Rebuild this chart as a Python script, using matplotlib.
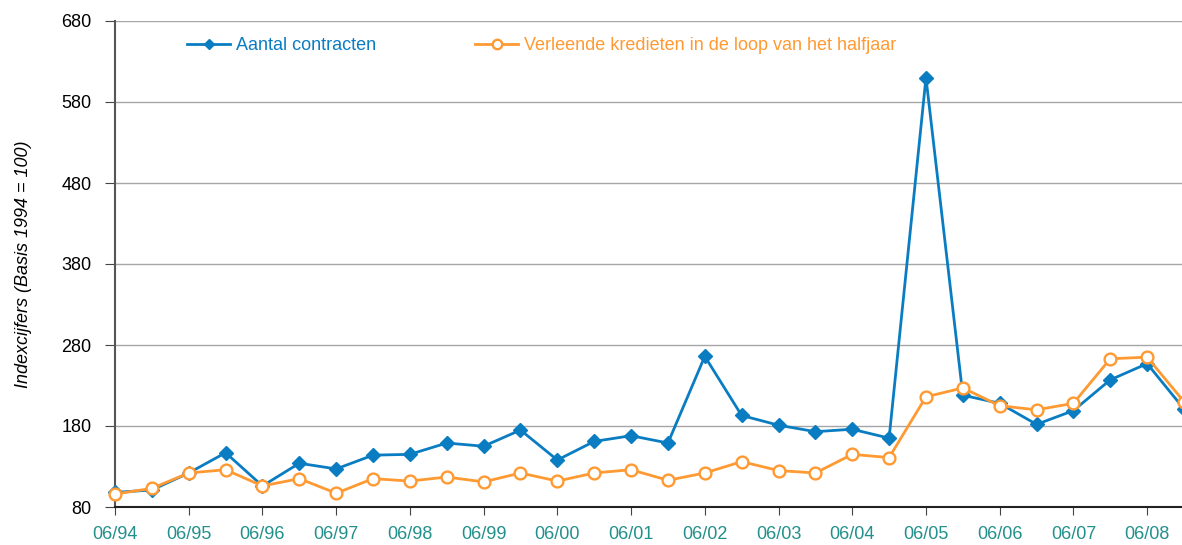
import numpy as np
import matplotlib.pyplot as plt

plt.rcParams['font.family'] = ['Liberation Sans', 'DejaVu Sans']

# half-year periods from 06/94 up to 12/08
tick_labels = ['06/94', '06/95', '06/96', '06/97', '06/98', '06/99', '06/00',
               '06/01', '06/02', '06/03', '06/04', '06/05', '06/06', '06/07', '06/08']

contracten = [98, 101, 122, 147, 106, 134, 127, 144, 145, 159, 155, 175, 138, 161, 168,
              159, 266, 193, 181, 173, 176, 165, 610, 218, 208, 182, 199, 237, 257, 201]
kredieten = [96, 103, 122, 126, 106, 115, 97, 115, 112, 117, 111, 122, 112, 122, 126,
             113, 122, 136, 125, 122, 145, 141, 216, 227, 205, 200, 208, 263, 265, 210]

blue = '#0A7DC2'
orange = '#FF9A33'
teal = '#22908A'

fig = plt.figure(figsize=(11.82, 5.45), dpi=100)
ax = fig.add_axes([115 / 1182, 38 / 545, 1069 / 1182, 486 / 545])

x = np.arange(len(contracten))
ax.plot(x, contracten, color=blue, lw=2, marker='D', ms=7,
        label='Aantal contracten', clip_on=False, zorder=3)
ax.plot(x, kredieten, color=orange, lw=2, marker='o', ms=8.5, mfc='white', mew=1.7,
        label='Verleende kredieten in de loop van het halfjaar', clip_on=False, zorder=3)

ax.set_xlim(0, 29)
ax.set_ylim(80, 680)
ax.set_yticks(np.arange(80, 681, 100))
ax.set_xticks(np.arange(0, 29, 2))
ax.set_xticklabels(tick_labels, color=teal, fontsize=13)
ax.tick_params(axis='y', labelsize=13, length=7, color='#444444', pad=10)
ax.tick_params(axis='x', length=6, color='#444444', pad=8)

ax.grid(axis='y', color='#A6A6A6', lw=1)
ax.set_axisbelow(True)
for s in ['top', 'right']:
    ax.spines[s].set_visible(False)
ax.spines['left'].set_color('#555555')
ax.spines['left'].set_linewidth(1.5)
ax.spines['bottom'].set_color('#222222')
ax.spines['bottom'].set_linewidth(1.5)

ax.set_ylabel('Indexcijfers (Basis 1994 = 100)', fontsize=13, style='italic', labelpad=21)

leg = ax.legend(ncol=2, loc='upper left', bbox_to_anchor=(0.052, 1.0), frameon=False,
                fontsize=13, handlelength=2.4, handletextpad=0.3, columnspacing=5.5,
                labelcolor='linecolor', markerscale=0.8)

fig.savefig('out.png', dpi=100)
